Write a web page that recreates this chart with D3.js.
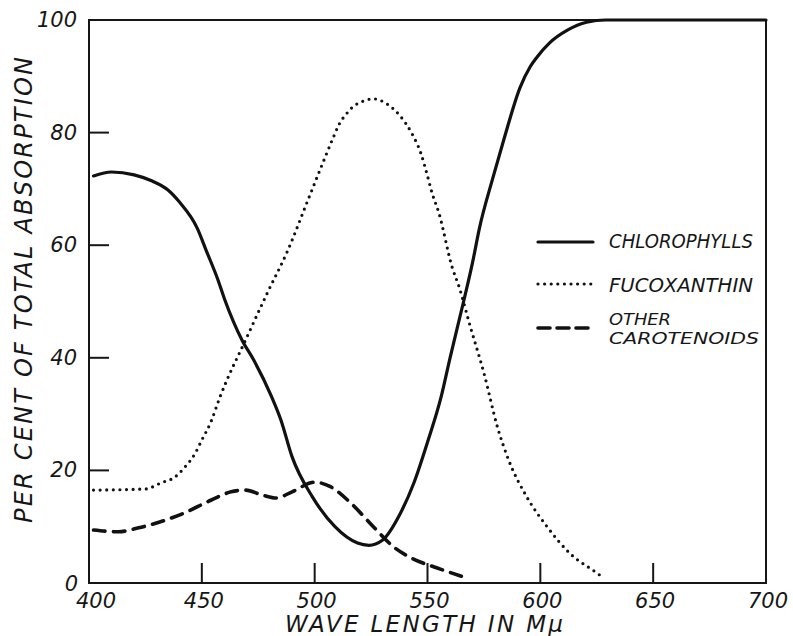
<!DOCTYPE html>
<html>
<head>
<meta charset="utf-8">
<script src="https://cdn.jsdelivr.net/npm/d3@7"></script>
<style>
    body { margin: 0; background: #fff; }
    #chart { width: 793px; height: 636px; }
    .lbl { font-family: "DejaVu Sans", sans-serif; font-style: italic; fill: #161616; }
    .frame { fill: none; stroke: #161616; stroke-width: 2; }
    .tick-line { stroke: #161616; stroke-width: 2; }
</style>
</head>
<body>
<div id="chart"></div>
<script>
// values (wave length in mu, per cent of total absorption)
const chloroWl = [402, 410, 420, 428, 435, 440, 448, 452, 457, 460, 468, 473, 481, 485, 490, 499, 509, 519, 524, 530, 538, 544, 550, 556, 560, 566, 570, 573, 579, 584, 591, 595.5, 598.5, 604, 612, 620.5, 629, 700]
const chloroPct = [72.3, 73, 72.5, 71.4, 69.8, 67.7, 63, 59, 54, 50.5, 43, 39.6, 33, 29, 22.4, 15.3, 10, 7.1, 6.7, 7.6, 12.4, 17.8, 25, 33, 40, 50, 57, 63, 72, 79, 88, 91.7, 93.4, 95.9, 98.2, 99.6, 100, 100]

const fucoWl = [402, 425, 432, 438, 442.5, 447, 450, 454, 458, 470, 479, 488, 497, 504, 508, 511, 514, 517, 521, 526, 532, 538, 543, 547, 550, 552, 555, 561, 564, 569, 575, 581, 586, 594, 603, 613, 625, 627]
const fucoPct = [16.5, 16.7, 17.8, 18.8, 20.6, 23, 25.4, 28.6, 33, 43.7, 51.5, 59, 68, 75, 78.9, 81.6, 83.3, 84.6, 85.5, 86, 85.1, 82.9, 79.9, 76.4, 72.3, 69.3, 65.8, 56, 52.6, 45.5, 37.3, 27.7, 21.8, 15.3, 10, 5.3, 1.8, 1.2]

const caroWl = [402, 413, 422, 431, 442, 454, 463, 469, 477, 483, 490, 500, 507, 516, 526, 535, 543, 554, 565]
const caroPct = [9.4, 9.1, 9.8, 10.8, 12.4, 14.7, 16.2, 16.5, 15.6, 15.1, 16.2, 17.9, 17.1, 14.2, 10, 6.4, 4.4, 2.7, 1.2]

const xTicks = [400, 450, 500, 550, 600, 650, 700]
const yTicks = [0, 20, 40, 60, 80, 100]

const seriesNames = [['CHLOROPHYLLS'], ['FUCOXANTHIN'], ['OTHER', 'CAROTENOIDS']]

drawChart()
function drawChart() {
    const area = document.querySelector('#chart')
    const margin = { top: 20, right: 27, bottom: 53, left: 89 },
        width = 793 - margin.left - margin.right,
        height = 636 - margin.top - margin.bottom;

    const svg = d3.select(area).append('svg')
        .attr('width', 793)
        .attr('height', 636)
    const chart = svg.append('g')
        .attr('transform', `translate(${margin.left},${margin.top})`)

    const xScale = d3.scaleLinear().domain([400, 700]).range([0, width])
    const yScale = d3.scaleLinear().domain([0, 100]).range([height, 0])

    //Frame
    chart.append('rect')
        .attr('class', 'frame')
        .attr('x', 0).attr('y', 0)
        .attr('width', width).attr('height', height)

    //Inward ticks
    chart.selectAll('.xt')
        .data(xTicks.slice(1, -1))
        .enter().append('line')
        .attr('class', 'tick-line')
        .attr('x1', (d) => xScale(d)).attr('x2', (d) => xScale(d))
        .attr('y1', height).attr('y2', height - 20)
    chart.selectAll('.yt')
        .data(yTicks.slice(1, -1))
        .enter().append('line')
        .attr('class', 'tick-line')
        .attr('x1', 0).attr('x2', 20)
        .attr('y1', (d) => yScale(d)).attr('y2', (d) => yScale(d))

    //Tick labels
    chart.selectAll('.xl')
        .data(xTicks)
        .enter().append('text')
        .attr('class', 'lbl')
        .attr('x', (d) => xScale(d) + (d == 400 ? 7 : 2))
        .attr('y', height + 25)
        .attr('text-anchor', 'middle')
        .style('font-size', '21px')
        .text((d) => d)
    chart.selectAll('.yl')
        .data(yTicks)
        .enter().append('text')
        .attr('class', 'lbl')
        .attr('x', (d) => d == 0 ? -11 : -12)
        .attr('y', (d) => yScale(d) + (d == 0 ? 8 : 7))
        .attr('text-anchor', 'end')
        .style('font-size', '21px')
        .text((d) => d)

    //Axis titles
    svg.append('text')
        .attr('class', 'lbl')
        .attr('x', 285)
        .attr('y', 632)
        .attr('textLength', 278)
        .attr('lengthAdjust', 'spacing')
        .style('font-size', '23px')
        .text('WAVE LENGTH IN M\u03bc')
    svg.append('text')
        .attr('class', 'lbl')
        .attr('transform', 'translate(32,523) rotate(-90)')
        .attr('textLength', 466)
        .attr('lengthAdjust', 'spacing')
        .style('font-size', '24px')
        .text('PER CENT OF TOTAL ABSORPTION')

    //Curves
    const line = d3.line()
        .x((d) => xScale(d[0]))
        .y((d) => yScale(d[1]))
        .curve(d3.curveMonotoneX)

    const styles = [
        { width: 3.2, dash: null, cap: 'round' },
        { width: 3.2, dash: '0 6.6', cap: 'round' },
        { width: 3.6, dash: '11.5 8.5', cap: 'round' }
    ]
    const series = [
        d3.zip(chloroWl, chloroPct),
        d3.zip(fucoWl, fucoPct),
        d3.zip(caroWl, caroPct)
    ]
    chart.selectAll('.curve')
        .data(series)
        .enter().append('path')
        .attr('fill', 'none')
        .attr('stroke', '#111')
        .attr('stroke-width', (d, i) => styles[i].width)
        .attr('stroke-dasharray', (d, i) => styles[i].dash)
        .attr('stroke-linecap', (d, i) => styles[i].cap)
        .attr('stroke-linejoin', 'round')
        .attr('d', line)

    //Legend
    const legend = svg.append('g')
        .attr('transform', 'translate(538,0)')
    const rowY = [242, 284, 328]
    const textY = [[248], [292], [325], [344]]
    const textW = [[144], [144], [62, 150]]
    legend.selectAll('line')
        .data(styles)
        .enter().append('line')
        .attr('x1', 0).attr('x2', 55)
        .attr('y1', (d, i) => rowY[i]).attr('y2', (d, i) => rowY[i])
        .attr('stroke', '#111')
        .attr('stroke-width', (d) => d.width)
        .attr('stroke-dasharray', (d, i) => i == 2 ? '12 7' : d.dash)
        .attr('stroke-linecap', (d) => d.cap)
    seriesNames.forEach(function (lines, i) {
        lines.forEach(function (t, j) {
            legend.append('text')
                .attr('class', 'lbl')
                .attr('x', 71)
                .attr('y', lines.length > 1 ? textY[i + j][0] : textY[i][0])
                .attr('textLength', textW[i][j])
                .attr('lengthAdjust', 'spacingAndGlyphs')
                .style('font-size', lines.length > 1 ? '16px' : '19px')
                .text(t)
        })
    })
}
</script>
</body>
</html>
